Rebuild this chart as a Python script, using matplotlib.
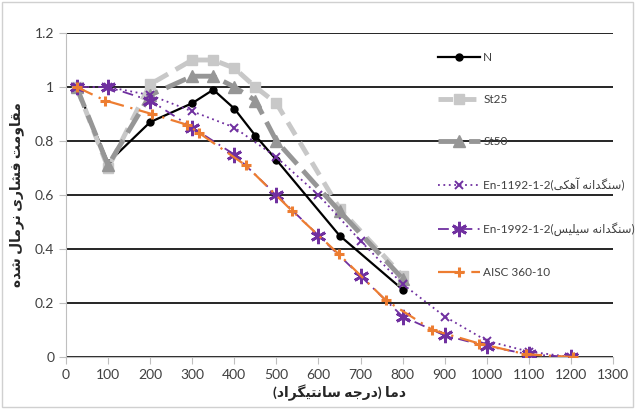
import numpy as np
import matplotlib
matplotlib.use("Agg")
from matplotlib import pyplot
from matplotlib.patches import Rectangle

# temperatures (deg C) and normalised compressive strength
temps_test = [25, 100, 200, 300, 350, 400, 450, 500, 650, 800]
n_vals = [1.0, 0.72, 0.87, 0.94, 0.99, 0.92, 0.82, 0.73, 0.45, 0.25]
st25_vals = [1.0, 0.70, 1.01, 1.10, 1.10, 1.07, 1.00, 0.94, 0.55, 0.30]
st50_vals = [1.0, 0.71, 0.97, 1.04, 1.04, 1.00, 0.95, 0.80, 0.54, 0.29]

temps_en = [25, 100, 200, 300, 400, 500, 600, 700, 800, 900, 1000, 1100, 1200]
en_calc_vals = [1.0, 1.0, 0.97, 0.91, 0.85, 0.74, 0.60, 0.43, 0.27, 0.15, 0.06, 0.02, 0.0]
en_sil_vals = [1.0, 1.0, 0.95, 0.85, 0.75, 0.60, 0.45, 0.30, 0.15, 0.08, 0.04, 0.01, 0.0]

temps_aisc = [25, 93, 204, 288, 316, 427, 538, 649, 760, 871, 982, 1093, 1204]
aisc_vals = [1.0, 0.95, 0.90, 0.86, 0.83, 0.71, 0.54, 0.38, 0.21, 0.10, 0.05, 0.01, 0.0]

x_ticks = list(range(0, 1301, 100))
y_ticks = [0, 0.2, 0.4, 0.6, 0.8, 1.0, 1.2]
y_tick_labels = ["0", "0.2", "0.4", "0.6", "0.8", "1", "1.2"]

# Persian presentation forms: isolated, final, initial, medial
FORMS = {
    "ا": ("\uFE8D", "\uFE8E"), "آ": ("\uFE81", "\uFE82"),
    "د": ("\uFEA9", "\uFEAA"), "ر": ("\uFEAD", "\uFEAE"),
    "و": ("\uFEED", "\uFEEE"),
    "م": ("\uFEE1", "\uFEE2", "\uFEE3", "\uFEE4"),
    "ج": ("\uFE9D", "\uFE9E", "\uFE9F", "\uFEA0"),
    "ه": ("\uFEE9", "\uFEEA", "\uFEEB", "\uFEEC"),
    "س": ("\uFEB1", "\uFEB2", "\uFEB3", "\uFEB4"),
    "ن": ("\uFEE5", "\uFEE6", "\uFEE7", "\uFEE8"),
    "ت": ("\uFE95", "\uFE96", "\uFE97", "\uFE98"),
    "ی": ("\uFBFC", "\uFBFD", "\uFBFE", "\uFBFF"),
    "گ": ("\uFB92", "\uFB93", "\uFB94", "\uFB95"),
    "ق": ("\uFED5", "\uFED6", "\uFED7", "\uFED8"),
    "ف": ("\uFED1", "\uFED2", "\uFED3", "\uFED4"),
    "ش": ("\uFEB5", "\uFEB6", "\uFEB7", "\uFEB8"),
    "ل": ("\uFEDD", "\uFEDE", "\uFEDF", "\uFEE0"),
    "ک": ("\uFB8E", "\uFB8F", "\uFB90", "\uFB91"),
}


def rtl(text):
    """Shape Persian letters and return them in visual (left to right) order."""
    out = []
    for i, c in enumerate(text):
        if c not in FORMS:
            out.append({"(": ")", ")": "("}.get(c, c))
            continue
        prev = text[i - 1] if i > 0 else None
        nxt = text[i + 1] if i + 1 < len(text) else None
        f = FORMS[c]
        join_prev = prev in FORMS and len(FORMS[prev]) == 4
        join_next = len(f) == 4 and nxt in FORMS
        if join_prev and join_next:
            out.append(f[3])
        elif join_prev:
            out.append(f[1])
        elif join_next:
            out.append(f[2])
        else:
            out.append(f[0])
    return "".join(out[::-1])


pyplot.rcParams["font.family"] = ["Lato", "DejaVu Sans"]

labels = [
    "N",
    "St25",
    "St50",
    "En-1192-1-2(" + rtl("سنگدانه آهکی") + ")",
    "En-1992-1-2(" + rtl("سنگدانه سیلیس") + ")",
    "AISC 360-10",
]

purple = "#7030a0"
orange = "#ed7d31"

fig = pyplot.figure(figsize=(6.35, 4.09), dpi=100)
ax = fig.add_axes([66 / 635, 1 - 357 / 409, (613 - 66) / 635, (357 - 33) / 409])

# series order as in the workbook: later series are drawn on top
ax.plot(temps_test, n_vals, color="black", lw=1.6, marker="o", ms=5, label=labels[0], zorder=3)
ax.plot(temps_test, st25_vals, color="#c8c8c8", lw=3.5, ls=(0, (3, 1.8)), marker="s", ms=7,
        label=labels[1], zorder=4)
ax.plot(temps_test, st50_vals, color="#969696", lw=3.5, ls=(0, (4.5, 1.8)), marker="^", ms=8,
        label=labels[2], zorder=5)
ax.plot(temps_en, en_calc_vals, color=purple, lw=1.3, ls=(0, (1, 2)), marker="x", ms=6, mew=1.4,
        label=labels[3], zorder=6)
ax.plot(temps_en, en_sil_vals, color=purple, lw=1.3, ls=(0, (6, 3, 1, 3)), marker=(6, 2, 0), ms=11,
        mew=2, label=labels[4], zorder=7)
ax.plot(temps_aisc, aisc_vals, color=orange, lw=1.6, ls=(0, (8, 3, 1, 3)), marker="+", ms=7, mew=2.2,
        label=labels[5], zorder=8)

ax.set_xlim(0, 1300)
ax.set_ylim(0, 1.2)
ax.set_xticks(x_ticks)
ax.set_yticks(y_ticks)
ax.set_yticklabels(y_tick_labels)
ax.yaxis.grid(True, color="black", lw=1.2)
ax.set_axisbelow(True)
for side in ["top", "right"]:
    ax.spines[side].set_visible(False)
for side in ["left", "bottom"]:
    ax.spines[side].set_color("#bfbfbf")
ax.tick_params(axis="both", colors="#bfbfbf", labelcolor="#404040", labelsize=10, length=5)

ax.set_xlabel("(" + rtl("درجه سانتیگراد") + ") " + rtl("دما"), fontsize=10, fontweight="bold",
              color="#262626", labelpad=3)
ax.set_ylabel(rtl("مقاومت فشاری نرمال شده"), fontsize=10, fontweight="bold", color="#262626",
              labelpad=8)

leg = fig.legend(loc="upper left", bbox_to_anchor=(432 / 635, 1 - 46 / 409), frameon=False,
                 fontsize=8.5, labelspacing=2.62, handlelength=3.6, handletextpad=0.25, borderpad=0)
for t in leg.get_texts():
    t.set_color("#404040")

fig.patches.append(Rectangle((0.003, 0.004), 0.994, 0.992, transform=fig.transFigure,
                             fill=False, edgecolor="#d0d0d0", lw=1))

fig.savefig("out.png", dpi=100)
